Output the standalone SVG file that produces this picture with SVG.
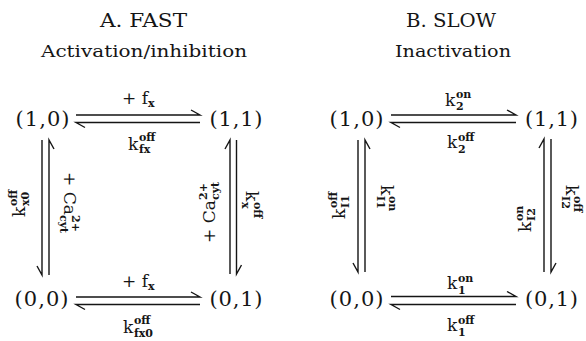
<svg xmlns="http://www.w3.org/2000/svg" width="586" height="341" viewBox="0 0 586 341">
<style>
text{font-family:"DejaVu Serif","Liberation Serif",serif;fill:#151515}
.t{font-size:19px}
.st{font-size:17px}
.n{font-size:21px;text-anchor:middle}
.m{font-size:17px}
.s{font-size:11px;font-weight:bold}
.c path{fill:none;stroke:#151515;stroke-width:1.4;stroke-linejoin:miter}
</style>
<rect width="586" height="341" fill="#fff"/>
<g id="titles">
<text class="t" x="143.5" y="27" text-anchor="middle" textLength="87" lengthAdjust="spacingAndGlyphs">A. FAST</text>
<text class="st" x="144" y="57" text-anchor="middle" textLength="206" lengthAdjust="spacingAndGlyphs">Activation/inhibition</text>
<text class="t" x="451" y="27" text-anchor="middle" textLength="90" lengthAdjust="spacingAndGlyphs">B. SLOW</text>
<text class="st" x="453" y="57" text-anchor="middle" textLength="116" lengthAdjust="spacingAndGlyphs">Inactivation</text>
</g>
<g id="nodeA10"><text class="n" x="42.5" y="126" textLength="54">(1,0)</text></g>
<g id="nodeA11"><text class="n" x="236" y="126" textLength="53">(1,1)</text></g>
<g id="nodeA00"><text class="n" x="41.5" y="306" textLength="54">(0,0)</text></g>
<g id="nodeA01"><text class="n" x="236" y="306" textLength="53">(0,1)</text></g>
<g id="nodeB10"><text class="n" x="356.5" y="126" textLength="54">(1,0)</text></g>
<g id="nodeB11"><text class="n" x="551.5" y="126" textLength="53">(1,1)</text></g>
<g id="nodeB00"><text class="n" x="356.5" y="306" textLength="54">(0,0)</text></g>
<g id="nodeB01"><text class="n" x="551.5" y="306" textLength="53">(0,1)</text></g>
<g id="connectors" class="c">
<path d="M76 115H200L191 110"/>
<path d="M200 122.5H76L85 127.5"/>
<path d="M76 297H200L191 292"/>
<path d="M200 304.5H76L85 309.5"/>
<path d="M391 115H516L507 110"/>
<path d="M516 122.5H391L400 127.5"/>
<path d="M391 296.5H516L507 291.5"/>
<path d="M516 304.5H391L400 309.5"/>
<path d="M42 140V275L37 266"/>
<path d="M49 275V140L54 149"/>
<path d="M230 274V140L225 149"/>
<path d="M236.5 140V274L241.5 265"/>
<path d="M358 140V272L353 263"/>
<path d="M365 272V140L370 149"/>
<path d="M544 272V139L539 148"/>
<path d="M551 139V272L556 263"/>
</g>
<g id="labels">
<text class="m" x="122" y="104">+ f</text><text class="s" x="148" y="107">x</text>
<text class="m" x="128" y="150">k</text><text class="s" x="139" y="141">off</text><text class="s" x="139" y="153">fx</text>
<text class="m" x="122" y="287">+ f</text><text class="s" x="148" y="290">x</text>
<text class="m" x="123" y="333">k</text><text class="s" x="134" y="324">off</text><text class="s" x="134" y="337">fx0</text>
<text class="m" x="445" y="105.5">k</text><text class="s" x="456" y="98">on</text><text class="s" x="456" y="110">2</text>
<text class="m" x="447" y="148">k</text><text class="s" x="458" y="141">off</text><text class="s" x="458" y="153">2</text>
<text class="m" x="447" y="289">k</text><text class="s" x="458" y="281.5">on</text><text class="s" x="458" y="293.5">1</text>
<text class="m" x="447" y="331">k</text><text class="s" x="458" y="323.5">off</text><text class="s" x="458" y="335.5">1</text>
<g transform="translate(25,217) rotate(-90)"><text class="m" x="0" y="0">k</text><text class="s" x="11" y="-8">off</text><text class="s" x="11" y="4">x0</text></g>
<g transform="translate(64,172) rotate(90)"><text class="m" x="0" y="0">+ Ca</text><text class="s" x="43" y="-8">2+</text><text class="s" x="43" y="4">cyt</text></g>
<g transform="translate(215,243) rotate(-90)"><text class="m" x="0" y="0">+ Ca</text><text class="s" x="43" y="-8">2+</text><text class="s" x="43" y="4">cyt</text></g>
<g transform="translate(246,191) rotate(90)"><text class="m" x="0" y="0">k</text><text class="s" x="11" y="-8">off</text><text class="s" x="11" y="4">x</text></g>
<g transform="translate(345,219) rotate(-90)"><text class="m" x="0" y="0">k</text><text class="s" x="11" y="-8">off</text><text class="s" x="11" y="4">I1</text></g>
<g transform="translate(381,185) rotate(90)"><text class="m" x="0" y="0">k</text><text class="s" x="11" y="-8">on</text><text class="s" x="11" y="4">I1</text></g>
<g transform="translate(531,232) rotate(-90)"><text class="m" x="0" y="0">k</text><text class="s" x="11" y="-8">on</text><text class="s" x="11" y="4">I2</text></g>
<g transform="translate(566,185) rotate(90)"><text class="m" x="0" y="0">k</text><text class="s" x="11" y="-8">off</text><text class="s" x="11" y="4">I2</text></g>
</g>
</svg>
